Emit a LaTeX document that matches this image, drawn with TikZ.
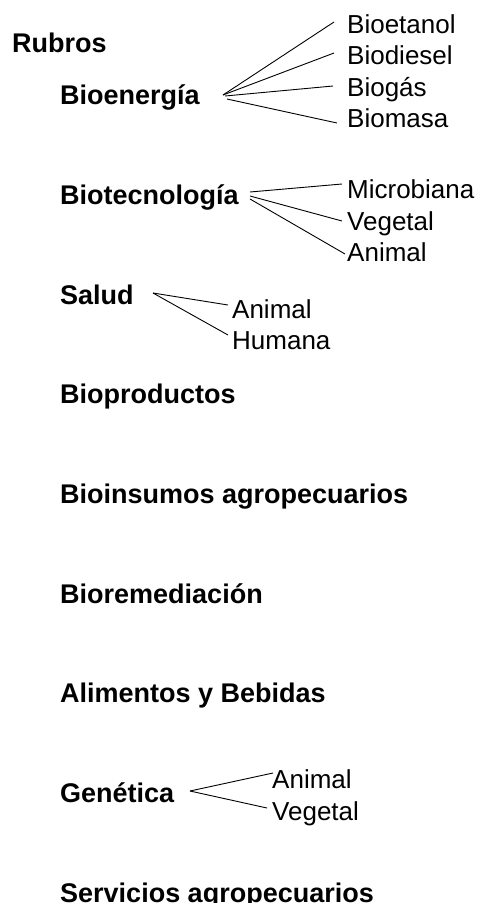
\documentclass[tikz,border=0pt]{standalone}
\usepackage{fontspec}
\setmainfont{Liberation Sans}
\begin{document}
\begin{tikzpicture}[x=1pt,y=-1pt,
  head/.style={anchor=base west, inner sep=0pt, font=\fontsize{27}{30}\selectfont\bfseries},
  leaf/.style={anchor=base west, inner sep=0pt, font=\fontsize{26}{30}\selectfont},
  conn/.style={draw=black, line width=0.9pt}]
\useasboundingbox (0,0) rectangle (480,903);
% headings
\node[head] (rubros) at (12,52) {Rubros};
\node[head] (bioen) at (60,104) {Bioenergía};
\node[head] (biotec) at (60,204) {Biotecnología};
\node[head] (salud) at (60,304) {Salud};
\node[head] (bioprod) at (60,403) {Bioproductos};
\node[head] (bioins) at (60,503) {Bioinsumos agropecuarios};
\node[head] (biorem) at (60,603) {Bioremediación};
\node[head] (alim) at (60,702) {Alimentos y Bebidas};
\node[head] (genet) at (60,802) {Genética};
\node[head] (serv) at (60,902) {Servicios agropecuarios};
% leaves
\node[leaf] (etanol) at (347,33) {Bioetanol};
\node[leaf] (diesel) at (347,64) {Biodiesel};
\node[leaf] (gas) at (347,96) {Biogás};
\node[leaf] (masa) at (347,127) {Biomasa};
\node[leaf] (micro) at (347,198) {Microbiana};
\node[leaf] (vegT) at (347,230) {Vegetal};
\node[leaf] (aniT) at (347,261) {Animal};
\node[leaf] (aniS) at (232,318) {Animal};
\node[leaf] (humS) at (232,349) {Humana};
\node[leaf] (aniG) at (272,788) {Animal};
\node[leaf] (vegG) at (272,820) {Vegetal};
% connector end points
\coordinate (e0) at (223,95);
\coordinate (e1) at (334,22);
\coordinate (e2) at (334,53);
\coordinate (e3a) at (225,96);
\coordinate (e3) at (333,86);
\coordinate (e4a) at (227,99);
\coordinate (e4) at (337,123);
\coordinate (t0) at (250,192);
\coordinate (t1) at (342,184);
\coordinate (t2a) at (250,196);
\coordinate (t2) at (342,221);
\coordinate (t3a) at (250,199);
\coordinate (t3) at (345,254);
\coordinate (s0) at (153,293);
\coordinate (s1) at (228,305);
\coordinate (s2) at (228,335);
\coordinate (g0) at (190,791);
\coordinate (g1) at (273,773);
\coordinate (g2) at (267,808);
% connectors
\draw[conn] (e0) -- (e1);
\draw[conn] (e0) -- (e2);
\draw[conn] (e3a) -- (e3);
\draw[conn] (e4a) -- (e4);
\draw[conn] (t0) -- (t1);
\draw[conn] (t2a) -- (t2);
\draw[conn] (t3a) -- (t3);
\draw[conn] (s0) -- (s1);
\draw[conn] (s0) -- (s2);
\draw[conn] (g0) -- (g1);
\draw[conn] (g0) -- (g2);
\end{tikzpicture}
\end{document}
